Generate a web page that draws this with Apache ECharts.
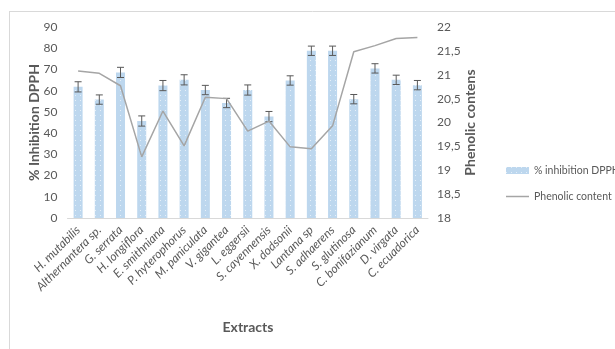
<!DOCTYPE html>
<html><head><meta charset="utf-8">
<script src="https://cdn.jsdelivr.net/npm/echarts@6/dist/echarts.min.js"></script>
<style>html,body{margin:0;padding:0;background:#fff}#c{width:615px;height:349px}</style>
</head><body><div id="c"></div>
<script>
const categories = ['H. mutabilis','Althernantera sp.','G. serrata','H. longiflora','E. smithniana','P. hyterophorus','M. paniculata','V. gigantea','L. eggersii','S. cayennensis','X. dodsonii','Lantana sp','S. adhaerens','S. glutinosa','C. bonifazianum','D. virgata','C. ecuadorica'];
const inhibition = [61.8, 55.8, 68.6, 45.7, 62.4, 65.1, 60.3, 54.2, 60.3, 47.8, 64.8, 78.8, 78.8, 56.0, 70.5, 65.1, 62.6];
const inhibitionErr = [2.4, 2.2, 2.4, 2.4, 2.4, 2.4, 2.2, 2.2, 2.4, 2.4, 2.2, 2.2, 2.2, 2.2, 2.2, 2.2, 2.2];
const phenolic = [21.08, 21.03, 20.77, 19.28, 20.24, 19.51, 20.53, 20.50, 19.82, 20.03, 19.49, 19.45, 19.93, 21.48, 21.61, 21.76, 21.78];
const leftTicks = {min: 0, max: 90, interval: 10};
const rightTicks = {min: 18, max: 22, interval: 0.5};

const FONT = "Lato, 'Open Sans', sans-serif";
const GREY = '#595959';
const chart = echarts.init(document.getElementById('c'));
chart.setOption({
  animation: false,
  textStyle: {fontFamily: FONT},
  grid: {left: 67.5, right: 187, top: 27, bottom: 131},
  graphic: [
    {type: 'line', shape: {x1: 10, y1: 11.5, x2: 615, y2: 11.5}, style: {stroke: '#d9d9d9', lineWidth: 1}},
    {type: 'line', shape: {x1: 9.5, y1: 11, x2: 9.5, y2: 349}, style: {stroke: '#d9d9d9', lineWidth: 1}},
    {type: 'text', x: 248, y: 327, style: {text: 'Extracts', font: "bold 14px " + FONT, fill: GREY, textAlign: 'center', textVerticalAlign: 'middle'}}
  ],
  legend: [
    {left: 506, top: 165, itemWidth: 23, itemHeight: 7, padding: 0,
     textStyle: {color: GREY, fontSize: 10.5, fontFamily: FONT},
     data: [{name: '% inhibition DPPH', icon: 'rect'}]},
    {left: 506, top: 191, itemWidth: 23, itemHeight: 1.5, padding: 0,
     textStyle: {color: GREY, fontSize: 10.5, fontFamily: FONT},
     data: [{name: 'Phenolic content', icon: 'rect', itemStyle: {color: '#a5a5a5'}}]}
  ],
  xAxis: {
    type: 'category', data: categories,
    axisLine: {lineStyle: {color: '#d9d9d9'}}, axisTick: {show: false},
    axisLabel: {rotate: 45, interval: 0, fontStyle: 'italic', color: GREY, fontSize: 12, margin: 10, fontFamily: FONT}
  },
  yAxis: [
    {type: 'value', min: leftTicks.min, max: leftTicks.max, interval: leftTicks.interval,
     name: '% Inhibition DPPH', nameLocation: 'middle', nameGap: 26, nameRotate: 90, nameMoveOverlap: false,
     nameTextStyle: {fontWeight: 'bold', fontSize: 14, color: GREY, fontFamily: FONT},
     splitLine: {show: false}, axisLine: {show: false}, axisTick: {show: false},
     axisLabel: {color: GREY, fontSize: 12, margin: 10}},
    {type: 'value', min: rightTicks.min, max: rightTicks.max, interval: rightTicks.interval,
     name: 'Phenolic contens', nameLocation: 'middle', nameGap: 35, nameRotate: 90, nameMoveOverlap: false,
     nameTextStyle: {fontWeight: 'bold', fontSize: 14, color: GREY, fontFamily: FONT},
     splitLine: {show: false}, axisLine: {show: false}, axisTick: {show: false},
     axisLabel: {color: GREY, fontSize: 12, margin: 9, formatter: v => String(v).replace('.', ',')}}
  ],
  series: [
    {name: '% inhibition DPPH', type: 'bar', data: inhibition, barWidth: 9, yAxisIndex: 0, z: 2,
     itemStyle: {color: '#bdd7ee', decal: {symbol: 'rect', symbolSize: 1, dashArrayX: [[1, 4]], dashArrayY: [1, 4], color: 'rgba(255,255,255,0.6)', rotation: 0}}},
    {name: 'err', type: 'custom', yAxisIndex: 0, z: 3,
     data: inhibition.map((v, i) => [i, v - inhibitionErr[i], v + inhibitionErr[i]]),
     renderItem: function (params, api) {
       const lo = api.coord([api.value(0), api.value(1)]);
       const hi = api.coord([api.value(0), api.value(2)]);
       const w = 3.5, st = {stroke: GREY, lineWidth: 1};
       return {type: 'group', children: [
         {type: 'line', shape: {x1: lo[0], y1: lo[1], x2: hi[0], y2: hi[1]}, style: st},
         {type: 'line', shape: {x1: lo[0] - w, y1: lo[1], x2: lo[0] + w, y2: lo[1]}, style: st},
         {type: 'line', shape: {x1: hi[0] - w, y1: hi[1], x2: hi[0] + w, y2: hi[1]}, style: st}
       ]};
     }},
    {name: 'Phenolic content', type: 'line', data: phenolic, yAxisIndex: 1, z: 4, symbol: 'none',
     lineStyle: {color: '#a5a5a5', width: 1.5}, itemStyle: {color: '#a5a5a5'}}
  ]
});
</script></body></html>
